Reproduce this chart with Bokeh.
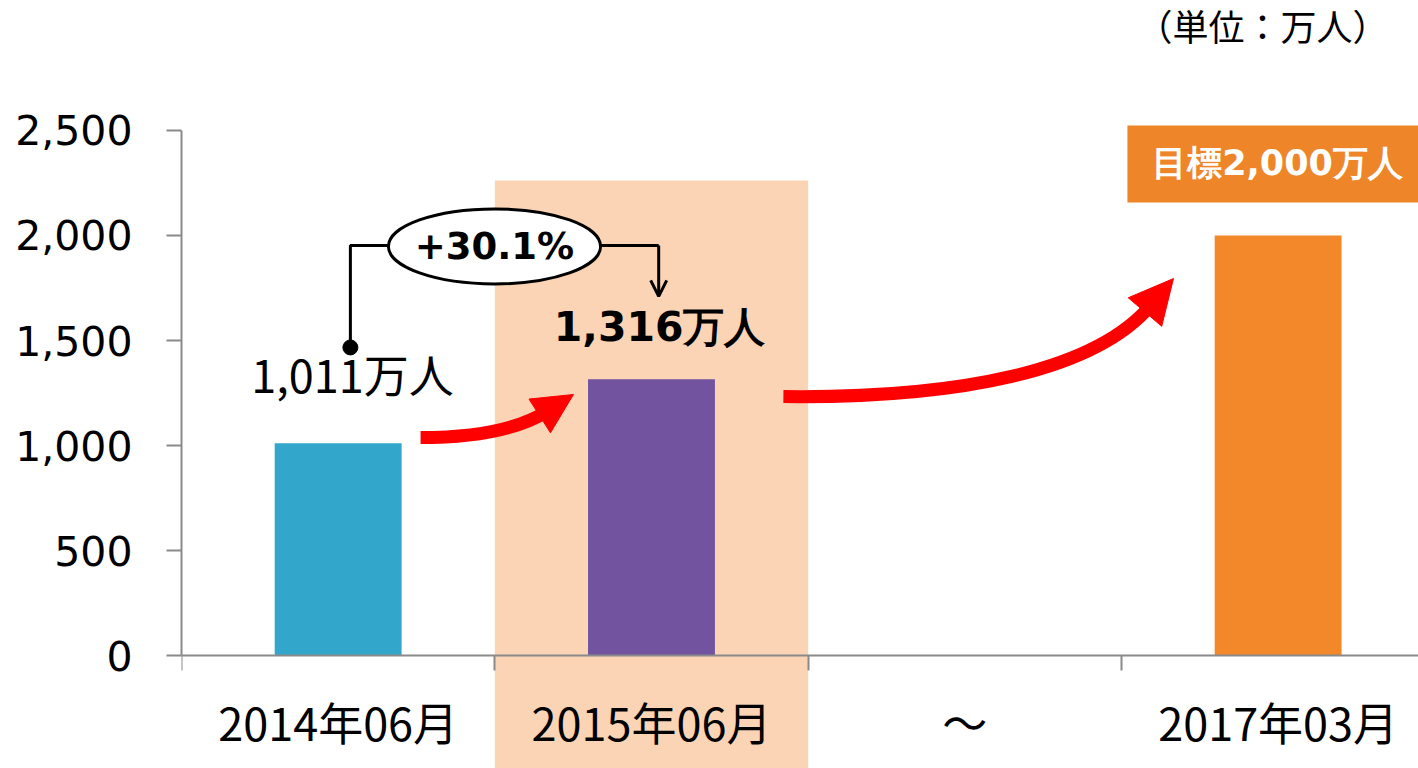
from bokeh.plotting import figure
from bokeh.models import (Range1d, LinearAxis, FixedTicker, Arrow, NormalHead, OpenHead,
                          NumeralTickFormatter)
from bokeh.core.properties import value
from bokeh.embed import file_html
from bokeh.resources import INLINE

# ---- data ----
categories = ["2014年06月", "2015年06月", "～", "2017年03月"]
visitors = [1011, 1316, None, 2000]
bar_colors = ["#32A7CB", "#7153A0", None, "#F2882A"]
value_labels = ["1,011万人", "1,316万人"]
growth_label = "+30.1%"
target_label = "目標2,000万人"
unit_label = "（単位：万人）"
y_ticks = [0, 500, 1000, 1500, 2000, 2500]

centers = [i + 0.5 for i in range(len(categories))]
bx = [c for c, v in zip(centers, visitors) if v is not None]
bv = [v for v in visitors if v is not None]
bc = [c for c, v in zip(bar_colors, visitors) if v is not None]

p = figure(width=1418, height=768, output_backend="svg", toolbar_location=None,
           x_range=Range1d(0, 3.948), y_range=Range1d(-538, 3119),
           x_axis_location=None, min_border_left=181, min_border_right=0,
           min_border_top=0, min_border_bottom=0)
p.outline_line_color = None
p.grid.visible = False
p.background_fill_color = "white"

# highlight band behind 2015
p.quad(left=[1.0], right=[2.0], bottom=[-538], top=[2262],
       fill_color="#FAD4B4", line_color=None)

# bars
p.vbar(x=bx, top=bv, bottom=0, width=0.405, fill_color=bc, line_color=None)

# y axis
ya = p.yaxis[0]
ya.ticker = FixedTicker(ticks=y_ticks)
ya.bounds = (0, 2500)
ya.formatter = NumeralTickFormatter(format="0,0")
ya.axis_line_color = "#8A8A8A"
ya.axis_line_width = 2
ya.major_tick_line_color = "#8A8A8A"
ya.major_tick_line_width = 2
ya.major_tick_out = 15
ya.major_tick_in = 0
ya.minor_tick_line_color = None
ya.major_label_text_font = "DejaVu Sans"
ya.major_label_text_font_size = "41px"
ya.major_label_text_color = "black"
ya.major_label_standoff = 34

# x axis at y = 0
xa = LinearAxis(fixed_location=0,
                ticker=FixedTicker(ticks=centers, minor_ticks=[0, 1, 2, 3]))
xa.major_label_overrides = {c: t for c, t in zip(centers, categories)}
xa.axis_line_color = "#8A8A8A"
xa.axis_line_width = 2
xa.major_tick_line_color = None
xa.major_tick_out = 0
xa.major_tick_in = 0
xa.minor_tick_line_color = "#8A8A8A"
xa.minor_tick_line_width = 2
xa.minor_tick_out = 15
xa.minor_tick_in = 0
xa.major_label_text_font = "Noto Sans CJK JP"
xa.major_label_text_font_size = "45px"
xa.major_label_text_color = "black"
xa.major_label_standoff = 18
p.add_layout(xa, "below")

# connector for growth annotation
p.multi_line(xs=[[0.539, 0.539, 0.658], [1.337, 1.523]],
             ys=[[1467, 1952, 1952], [1952, 1952]],
             line_color="black", line_width=3)
p.add_layout(Arrow(x_start=1.523, y_start=1952, x_end=1.523, y_end=1710,
                   line_color="black", line_width=3,
                   end=OpenHead(size=16, line_color="black", line_width=3)))
p.scatter(x=[0.539], y=[1467], size=15, color="black")
p.ellipse(x=[0.999], y=[1948], width=[0.677], height=[357],
          fill_color="white", line_color="black", line_width=3)
p.text(x=[0.999], y=[1948], text=[growth_label], text_font=value("DejaVu Sans"),
       text_font_style="bold", text_font_size="37px", text_align="center",
       text_baseline="middle", text_color="black")

# value labels
p.text(x=[bx[0] + 0.046], y=[bv[0] + 330], text=[value_labels[0]],
       text_font=value("Noto Sans CJK JP"), text_font_size="45px",
       text_align="center", text_baseline="middle", text_color="black")
p.text(x=[bx[1] + 0.026], y=[bv[1] + 250], text=[value_labels[1]],
       text_font=value("DejaVu Sans"), text_font_style="bold", text_font_size="41px",
       text_align="center", text_baseline="middle", text_color="black")

# red curved arrows
p.bezier(x0=[0.763, 1.921], y0=[1038, 1233], x1=[1.171, 3.093], y1=[1167, 1667],
         cx0=[0.954, 2.486], cy0=[1038, 1224], cx1=[1.082, 2.917], cy1=[1081, 1357],
         line_color="#FF0000", line_width=13)
p.add_layout(Arrow(x_start=1.171, y_start=1167, x_end=1.251, y_end=1243,
                   line_alpha=0,
                   end=NormalHead(size=40, fill_color="#FF0000", line_color="#FF0000")))
p.add_layout(Arrow(x_start=3.093, y_start=1667, x_end=3.166, y_end=1795,
                   line_alpha=0,
                   end=NormalHead(size=44, fill_color="#FF0000", line_color="#FF0000")))

# target box
p.quad(left=[3.019], right=[3.948], bottom=[2157], top=[2524],
       fill_color="#EF8529", line_color=None)
p.text(x=[3.498], y=[2343], text=[target_label], text_font=value("DejaVu Sans"),
       text_font_style="bold", text_font_size="35px", text_align="center",
       text_baseline="middle", text_color="white")

# unit label
p.text(x=[3.45], y=[3000], text=[unit_label], text_font=value("Noto Sans CJK JP"),
       text_font_size="36px", text_align="center", text_baseline="middle",
       text_color="black")

open("out.html", "w").write(file_html(p, INLINE))
